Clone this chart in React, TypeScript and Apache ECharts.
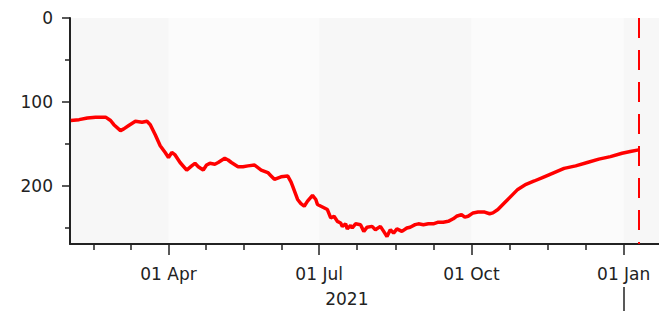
import React, { useEffect, useRef } from "react";
import * as echarts from "echarts";

// ---- data ----
const dates: string[] = [
  "2021-02-01", "2021-02-06", "2021-02-11", "2021-02-16", "2021-02-22", "2021-02-25", "2021-02-27",
  "2021-03-03", "2021-03-05", "2021-03-08", "2021-03-12", "2021-03-16", "2021-03-19", "2021-03-21",
  "2021-03-24", "2021-03-27", "2021-03-30", "2021-04-01", "2021-04-03", "2021-04-05", "2021-04-08",
  "2021-04-12", "2021-04-15", "2021-04-17", "2021-04-19", "2021-04-22", "2021-04-24", "2021-04-26",
  "2021-04-29", "2021-05-01", "2021-05-05", "2021-05-07", "2021-05-09", "2021-05-13", "2021-05-16",
  "2021-05-19", "2021-05-23", "2021-05-27", "2021-05-31", "2021-06-02", "2021-06-04", "2021-06-08",
  "2021-06-12", "2021-06-14", "2021-06-15", "2021-06-18", "2021-06-20", "2021-06-22", "2021-06-24",
  "2021-06-27", "2021-06-29", "2021-06-30", "2021-07-03", "2021-07-06", "2021-07-08", "2021-07-10",
  "2021-07-12", "2021-07-14", "2021-07-15", "2021-07-17", "2021-07-18", "2021-07-20", "2021-07-21",
  "2021-07-23", "2021-07-26", "2021-07-28", "2021-07-30", "2021-08-02", "2021-08-04", "2021-08-07",
  "2021-08-09", "2021-08-11", "2021-08-13", "2021-08-15", "2021-08-17", "2021-08-20", "2021-08-23",
  "2021-08-25", "2021-08-28", "2021-08-30", "2021-09-02", "2021-09-05", "2021-09-08", "2021-09-11",
  "2021-09-14", "2021-09-17", "2021-09-20", "2021-09-22", "2021-09-25", "2021-09-27", "2021-09-29",
  "2021-10-02", "2021-10-05", "2021-10-09", "2021-10-12", "2021-10-14", "2021-10-17", "2021-10-21",
  "2021-10-25", "2021-10-29", "2021-11-03", "2021-11-08", "2021-11-14", "2021-11-20", "2021-11-26",
  "2021-12-03", "2021-12-10", "2021-12-17", "2021-12-24", "2021-12-31", "2022-01-05", "2022-01-10",
];
const levels: number[] = [
  122, 121, 119, 118, 118, 122, 127,
  134, 132, 128, 123, 124, 123, 127,
  139, 152, 160, 166, 160, 163, 172,
  181, 176, 173, 177, 181, 175, 173,
  174, 172, 167, 169, 172, 177, 177,
  176, 175, 181, 184, 188, 192, 189,
  188, 195, 200, 216, 221, 224, 218,
  211, 216, 222, 225, 228, 238, 236,
  242, 244, 248, 245, 251, 247, 250,
  245, 246, 254, 249, 248, 252, 248,
  254, 260, 252, 256, 251, 254, 250,
  249, 246, 245, 246, 245, 245, 243,
  243, 242, 239, 236, 234, 237, 236,
  232, 231, 231, 233, 232, 228, 220,
  212, 204, 198, 194, 189, 184, 179,
  176, 172, 168, 165, 161, 159, 157,
];
const markerDate = "2022-01-10";
const quarterStarts: string[] = [
  "2021-01-01", "2021-04-01", "2021-07-01", "2021-10-01", "2022-01-01", "2022-04-01",
];
const yMajorTicks: number[] = [0, 100, 200];
const yMinorTicks: number[] = [50, 150, 250];
const monthNames: string[] = ["Jan", "Feb", "Mar", "Apr", "May", "Jun", "Jul", "Aug", "Sep", "Oct", "Nov", "Dec"];

const DAY = 86400000;
const ts = (s: string) => new Date(s + "T00:00:00").getTime();

export default function App() {
  const ref = useRef<HTMLDivElement>(null);
  useEffect(() => {
    if (!ref.current) return;
    const chart = echarts.init(ref.current, undefined, { renderer: "svg" });

    const xMin = ts("2021-01-31") + DAY / 2;
    const xMax = xMin + 360.66 * DAY;
    const q = quarterStarts.map(ts);
    const majors = q.filter((v) => v >= xMin && v <= xMax);
    const minors: number[] = [];
    for (let i = 0; i < q.length - 1; i++) {
      const len = q[i + 1] - q[i];
      for (let k = 1; k < 4; k++) {
        const v = Math.round(q[i] + (len * k) / 4);
        if (v >= xMin && v <= xMax) minors.push(v);
      }
    }
    const yearEnd = ts("2022-01-01");
    const yearMid = (xMin + yearEnd) / 2;

    const bands: any[] = [];
    for (let i = 0; i < q.length - 1; i++) {
      if (i % 2 === 1) {
        const a = Math.max(q[i], xMin);
        const b = Math.min(q[i + 1], xMax);
        if (b > a) bands.push([{ xAxis: a }, { xAxis: b }]);
      }
    }

    const fontFamily = "DejaVu Sans";
    const textColor = "#222";
    const fmt = (v: number) => {
      const d = new Date(v);
      const dd = String(d.getDate()).padStart(2, "0");
      return dd + " " + monthNames[d.getMonth()];
    };

    const baseX = { type: "value", min: xMin, max: xMax, gridIndex: 0, splitLine: { show: false } };
    const tickLine = { color: textColor, width: 1.5 };

    chart.setOption({
      animation: false,
      grid: {
        left: 70, top: 18, right: 0, bottom: 67,
        show: true, backgroundColor: "#f7f7f7", borderWidth: 0,
      },
      xAxis: [
        {
          ...baseX,
          position: "bottom",
          axisLine: { show: true, onZero: false, lineStyle: { color: textColor, width: 2 } },
          axisTick: { show: true, customValues: majors, length: 11, lineStyle: tickLine },
          axisLabel: {
            show: true, customValues: majors, formatter: fmt, margin: 21,
            fontFamily, fontSize: 17, color: textColor,
          },
        },
        {
          ...baseX,
          position: "bottom",
          axisLine: { show: false, onZero: false },
          axisTick: { show: true, customValues: minors, length: 6, lineStyle: tickLine },
          axisLabel: { show: false },
        },
        {
          ...baseX,
          position: "bottom",
          offset: 43,
          axisLine: { show: false, onZero: false },
          axisTick: { show: true, customValues: [yearEnd], length: 26, lineStyle: tickLine },
          axisLabel: {
            show: true, customValues: [yearMid],
            formatter: (v: number) => String(new Date(v).getFullYear()),
            margin: 3, fontFamily, fontSize: 17, color: textColor,
          },
        },
      ],
      yAxis: [
        {
          type: "value", inverse: true, min: 0, max: 269, position: "left",
          splitLine: { show: false },
          axisLine: { show: true, onZero: false, lineStyle: { color: textColor, width: 2 } },
          axisTick: { show: true, customValues: yMajorTicks, length: 8, lineStyle: tickLine },
          axisLabel: {
            show: true, customValues: yMajorTicks, margin: 17,
            fontFamily, fontSize: 17, color: textColor,
          },
        },
        {
          type: "value", inverse: true, min: 0, max: 269, position: "left",
          splitLine: { show: false },
          axisLine: { show: false, onZero: false },
          axisTick: { show: true, customValues: yMinorTicks, length: 5, lineStyle: tickLine },
          axisLabel: { show: false },
        },
      ],
      series: [
        {
          type: "line",
          xAxisIndex: 0,
          yAxisIndex: 0,
          data: dates.map((d, i) => [ts(d), levels[i]]),
          showSymbol: false,
          lineStyle: { color: "#ff0000", width: 3.5 },
          itemStyle: { color: "#ff0000" },
          z: 3,
          markArea: {
            silent: true,
            itemStyle: { color: "#fbfbfb" },
            data: bands,
            z: 0,
          },
          markLine: {
            silent: true,
            symbol: ["none", "none"],
            label: { show: false },
            lineStyle: { color: "#ff0000", type: [20, 12], width: 2 },
            data: [{ xAxis: ts(markerDate) }],
          },
        },
      ],
    });
    return () => chart.dispose();
  }, []);
  return <div ref={ref} style={{ width: 667, height: 311, marginLeft: -8, marginTop: -8 }} />;
}
